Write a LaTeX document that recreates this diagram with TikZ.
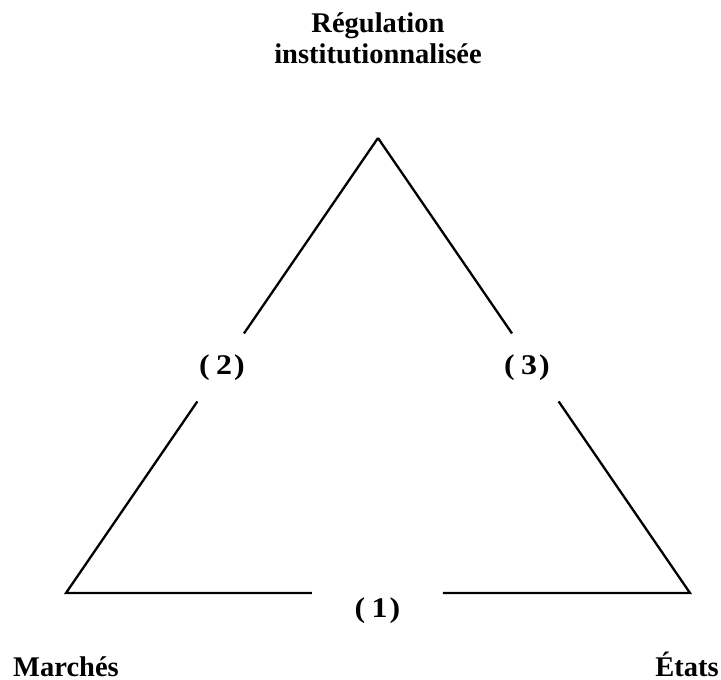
\documentclass[tikz,border=0pt]{standalone}
\usepackage{fontspec}
\setmainfont{Liberation Serif}
\usetikzlibrary{calc}
\newcommand{\numlbl}[1]{\scalebox{1.12}[1]{(\hspace{0.2em}#1\hspace{0.06em})}}
\begin{document}
\begin{tikzpicture}[x=1pt,y=-1pt,
  edge/.style={line width=2.3pt,line cap=butt,line join=miter},
  vlabel/.style={font=\bfseries\fontsize{28.5}{32}\selectfont,anchor=base,inner sep=0pt},
  num/.style={font=\bfseries\fontsize{28.5}{32}\selectfont,anchor=base,inner sep=0pt}]
\useasboundingbox (0,0) rectangle (721,680);
\coordinate (T) at (378,138);
\coordinate (BL) at (66,593);
\coordinate (BR) at (690,593);
\draw[edge] (T) -- ($(T)!0.4295!(BL)$);
\draw[edge] ($(T)!0.579!(BL)$) -- (BL) -- ($(BL)!0.394!(BR)$);
\draw[edge] ($(BL)!0.604!(BR)$) -- (BR) -- ($(T)!0.579!(BR)$);
\draw[edge] ($(T)!0.4295!(BR)$) -- (T);
\node[vlabel] (reg) at (378,32) {Régulation};
\node[vlabel] (inst) at (378,63) {institutionnalisée};
\node[vlabel] (mar) at (66,676) {Marchés};
\node[vlabel] (eta) at (687,676) {États};
\node[num] (n2) at (222,374) {\numlbl{2}};
\node[num] (n3) at (527,374) {\numlbl{3}};
\node[num] (n1) at (377.5,617) {\numlbl{1}};
\end{tikzpicture}
\end{document}
